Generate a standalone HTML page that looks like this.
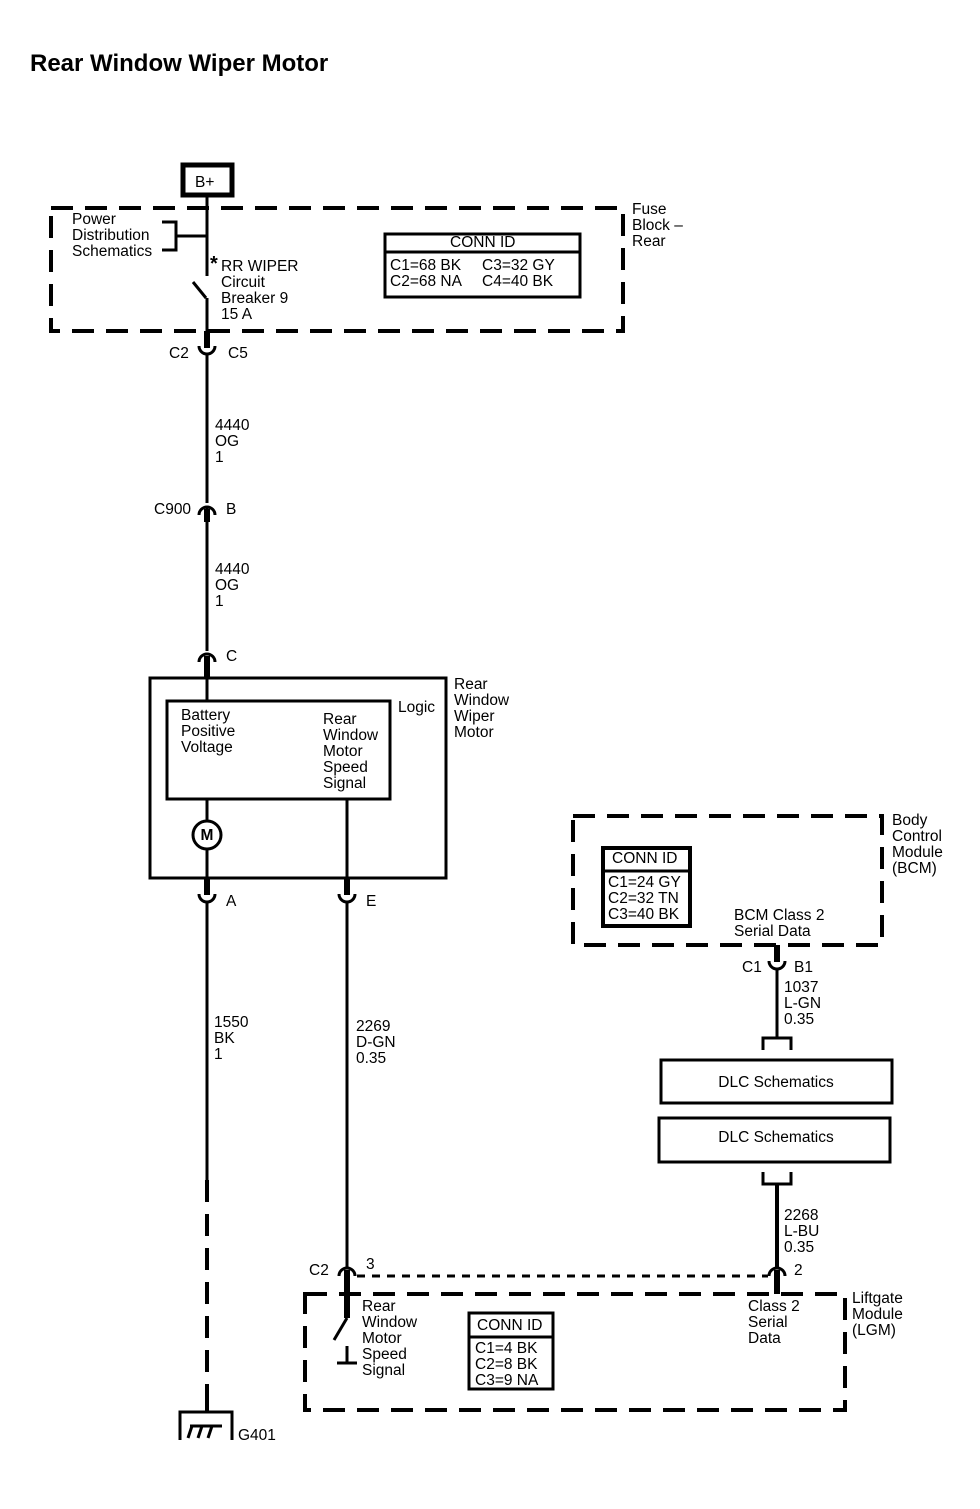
<!DOCTYPE html>
<html><head><meta charset="utf-8"><style>
body{margin:0;background:#fff}
svg text{font-family:"Liberation Sans",sans-serif;font-size:15.5px;fill:#000}
</style></head><body>
<svg width="980" height="1504" viewBox="0 0 980 1504" xmlns="http://www.w3.org/2000/svg">
<text x="30" y="71" style="font-size:24px;font-weight:bold">Rear Window Wiper Motor</text>
<g fill="none" stroke="#000" stroke-width="3">
<rect x="51" y="208" width="572" height="123" stroke-dasharray="22 12" stroke-width="4"/>
<rect x="183" y="165" width="49" height="30" stroke-width="5"/>
<line x1="207" y1="197" x2="207" y2="276"/>
<polyline points="162,222 176,222 176,250 162,250"/>
<line x1="176" y1="236" x2="207" y2="236"/>
<line x1="193" y1="282" x2="206" y2="298"/>
<line x1="207" y1="298" x2="207" y2="348" />
<line x1="207" y1="331" x2="207" y2="348" stroke-width="6"/>
<path d="M199,346 A8,8 0 0 0 215,346"/>
<line x1="207" y1="354" x2="207" y2="503"/>
<path d="M199,515 A8,8 0 0 1 215,515"/>
<line x1="207" y1="507" x2="207" y2="651"/>
<line x1="207" y1="509" x2="207" y2="522" stroke-width="6"/>
<path d="M199,662 A8,8 0 0 1 215,662"/>
<line x1="207" y1="656" x2="207" y2="677" stroke-width="6"/>
<rect x="150" y="678" width="296" height="200"/>
<rect x="167" y="701" width="223" height="98"/>
<line x1="207" y1="677" x2="207" y2="701"/>
<line x1="207" y1="799" x2="207" y2="821"/>
<circle cx="207" cy="835" r="14"/>
<line x1="207" y1="849" x2="207" y2="895"/>
<line x1="207" y1="878" x2="207" y2="895" stroke-width="6"/>
<path d="M199,894 A8,8 0 0 0 215,894"/>
<line x1="207" y1="902" x2="207" y2="1180"/>
<line x1="207" y1="1180" x2="207" y2="1400" stroke-width="4" stroke-dasharray="22 12"/>
<line x1="207" y1="1398" x2="207" y2="1412" stroke-width="4"/>
<line x1="347" y1="799" x2="347" y2="895"/>
<line x1="347" y1="878" x2="347" y2="895" stroke-width="6"/>
<path d="M339,894 A8,8 0 0 0 355,894"/>
<line x1="347" y1="902" x2="347" y2="1268"/>
<path d="M339,1276 A8,8 0 0 1 355,1276"/>
<line x1="347" y1="1270" x2="347" y2="1318" stroke-width="6"/>
<line x1="347" y1="1318" x2="334" y2="1340"/>
<line x1="347" y1="1346" x2="347" y2="1362"/>
<line x1="337" y1="1363" x2="357" y2="1363"/>
<polyline points="180,1440 180,1412 232,1412 232,1440"/>
<line x1="188" y1="1438" x2="192" y2="1426"/>
<line x1="198" y1="1438" x2="202" y2="1426"/>
<line x1="208" y1="1438" x2="212" y2="1426"/>
<line x1="190" y1="1426" x2="222" y2="1426"/>
<line x1="357" y1="1276" x2="768" y2="1276" stroke-dasharray="8 7"/>
<rect x="305" y="1294" width="540" height="116" stroke-dasharray="22 12" stroke-width="4"/>
<rect x="469" y="1313" width="84" height="76"/>
<line x1="469" y1="1337" x2="553" y2="1337"/>
<rect x="573" y="816" width="309" height="129" stroke-dasharray="22 12" stroke-width="4"/>
<rect x="603" y="848" width="87" height="78" stroke-width="4"/>
<line x1="603" y1="871" x2="690" y2="871"/>
<line x1="777" y1="945" x2="777" y2="962" stroke-width="6"/>
<path d="M769,961 A8,8 0 0 0 785,961"/>
<line x1="777" y1="969" x2="777" y2="1038"/>
<polyline points="763,1050 763,1038 791,1038 791,1050"/>
<rect x="661" y="1060" width="231" height="43"/>
<rect x="659" y="1118" width="231" height="44"/>
<polyline points="763,1172 763,1184 791,1184 791,1172"/>
<line x1="777" y1="1184" x2="777" y2="1268" stroke-width="4"/>
<path d="M769,1276 A8,8 0 0 1 785,1276"/>
<line x1="777" y1="1270" x2="777" y2="1294" stroke-width="6"/>
<rect x="385" y="234" width="195" height="63"/>
<line x1="385" y1="252" x2="580" y2="252"/>
</g>
<text x="210" y="270" style="font-size:20px;font-weight:bold">*</text>
<text x="195" y="187">B+</text>
<text x="72" y="224">Power</text><text x="72" y="240">Distribution</text><text x="72" y="256">Schematics</text>
<text x="221" y="271">RR WIPER</text><text x="221" y="287">Circuit</text><text x="221" y="303">Breaker 9</text><text x="221" y="319">15 A</text>
<text x="632" y="214">Fuse</text><text x="632" y="230">Block –</text><text x="632" y="246">Rear</text>
<text x="450" y="247">CONN ID</text>
<text x="390" y="270">C1=68 BK</text><text x="482" y="270">C3=32 GY</text>
<text x="390" y="286">C2=68 NA</text><text x="482" y="286">C4=40 BK</text>
<text x="169" y="358">C2</text><text x="228" y="358">C5</text>
<text x="215" y="430">4440</text><text x="215" y="446">OG</text><text x="215" y="462">1</text>
<text x="154" y="514">C900</text><text x="226" y="514">B</text>
<text x="215" y="574">4440</text><text x="215" y="590">OG</text><text x="215" y="606">1</text>
<text x="226" y="661">C</text>
<text x="454" y="689">Rear</text><text x="454" y="705">Window</text><text x="454" y="721">Wiper</text><text x="454" y="737">Motor</text>
<text x="398" y="712">Logic</text>
<text x="181" y="720">Battery</text><text x="181" y="736">Positive</text><text x="181" y="752">Voltage</text>
<text x="323" y="724">Rear</text><text x="323" y="740">Window</text><text x="323" y="756">Motor</text><text x="323" y="772">Speed</text><text x="323" y="788">Signal</text>
<text x="207" y="840" text-anchor="middle" style="font-weight:bold">M</text>
<text x="226" y="906">A</text><text x="366" y="906">E</text>
<text x="214" y="1027">1550</text><text x="214" y="1043">BK</text><text x="214" y="1059">1</text>
<text x="356" y="1031">2269</text><text x="356" y="1047">D-GN</text><text x="356" y="1063">0.35</text>
<text x="309" y="1275">C2</text><text x="366" y="1269">3</text><text x="794" y="1275">2</text>
<text x="238" y="1440">G401</text>
<text x="362" y="1311">Rear</text><text x="362" y="1327">Window</text><text x="362" y="1343">Motor</text><text x="362" y="1359">Speed</text><text x="362" y="1375">Signal</text>
<text x="477" y="1330">CONN ID</text>
<text x="475" y="1353">C1=4 BK</text><text x="475" y="1369">C2=8 BK</text><text x="475" y="1385">C3=9 NA</text>
<text x="748" y="1311">Class 2</text><text x="748" y="1327">Serial</text><text x="748" y="1343">Data</text>
<text x="852" y="1303">Liftgate</text><text x="852" y="1319">Module</text><text x="852" y="1335">(LGM)</text>
<text x="892" y="825">Body</text><text x="892" y="841">Control</text><text x="892" y="857">Module</text><text x="892" y="873">(BCM)</text>
<text x="612" y="863">CONN ID</text>
<text x="608" y="887">C1=24 GY</text><text x="608" y="903">C2=32 TN</text><text x="608" y="919">C3=40 BK</text>
<text x="734" y="920">BCM Class 2</text><text x="734" y="936">Serial Data</text>
<text x="742" y="972">C1</text><text x="794" y="972">B1</text>
<text x="784" y="992">1037</text><text x="784" y="1008">L-GN</text><text x="784" y="1024">0.35</text>
<text x="776" y="1087" text-anchor="middle">DLC Schematics</text>
<text x="776" y="1142" text-anchor="middle">DLC Schematics</text>
<text x="784" y="1220">2268</text><text x="784" y="1236">L-BU</text><text x="784" y="1252">0.35</text>
</svg>
</body></html>
